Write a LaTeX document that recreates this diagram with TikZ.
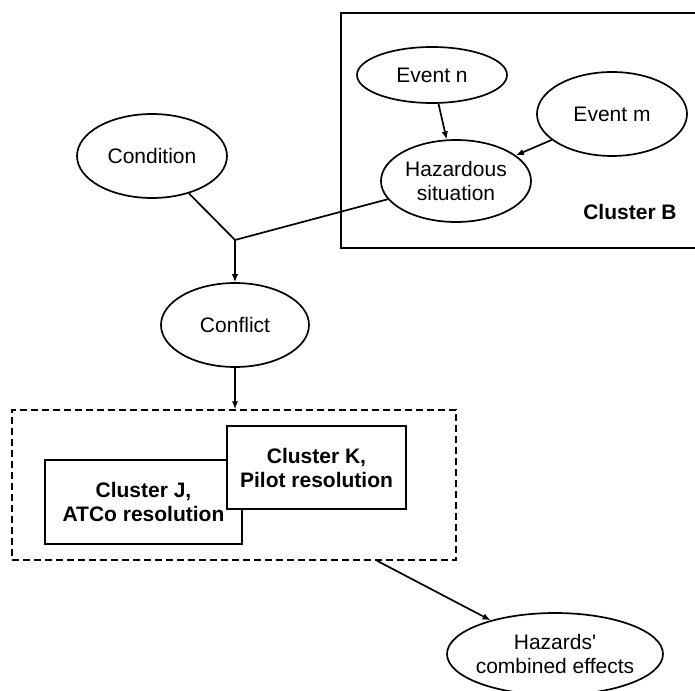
\documentclass[tikz,border=0pt]{standalone}
\usepackage{fontspec}
\setmainfont{Liberation Sans}
\usetikzlibrary{shapes.geometric,arrows.meta}
\begin{document}
\begin{tikzpicture}[x=1pt,y=-1pt,
  every node/.style={font=\fontsize{21}{24}\selectfont, align=center},
  oval/.style={draw, ellipse, line width=1.7pt, inner sep=0pt},
  clusterbox/.style={draw, rectangle, line width=1.7pt, fill=white, inner sep=0pt,
    font=\fontsize{21}{24}\selectfont\bfseries},
  grouping/.style={draw, rectangle, line width=1.5pt, dash pattern=on 7pt off 4pt, inner sep=0pt},
  link/.style={line width=1.7pt},
  arrowlink/.style={link, -{Latex[length=8pt,width=6.5pt]}},
]
\useasboundingbox (0,0) rectangle (695,690);

% Cluster B frame (runs past the right edge)
\node[draw, line width=1.7pt, inner sep=0pt, minimum width=359pt, minimum height=235pt]
  (clusterB) at (520.5,130.5) {};
\node[font=\fontsize{21}{24}\selectfont\bfseries] (labelB) at (630,212) {Cluster B};

% Events and states
\node[oval, minimum width=150pt, minimum height=56pt] (eventn) at (432,75) {Event n};
\node[oval, minimum width=150pt, minimum height=84pt] (eventm) at (612,114) {Event m};
\node[oval, minimum width=150pt, minimum height=82pt] (haz) at (456,181) {Hazardous\\situation};
\node[oval, minimum width=150pt, minimum height=84pt] (cond) at (152,156) {Condition};
\node[oval, minimum width=148pt, minimum height=84pt] (conflict) at (235,325) {Conflict};
\node[oval, inner xsep=-6pt, minimum width=216pt, minimum height=82pt] (effects) at (555,654)
  {Hazards\textquotesingle\\combined effects};

% Resolution group
\node[grouping, minimum width=444pt, minimum height=150pt] (group) at (234,485) {};
\node[clusterbox, minimum width=197pt, minimum height=84pt] (clusterJ) at (143.5,502)
  {Cluster J,\\ATCo resolution};
\node[clusterbox, minimum width=179pt, minimum height=83pt] (clusterK) at (316.5,467.5)
  {Cluster K,\\Pilot resolution};

% Connectors
\coordinate (jn) at (235,240);
\coordinate (gout) at ([xshift=143pt]group.south);
\draw[arrowlink] (eventn) -- (haz);
\draw[arrowlink] (eventm) -- (haz);
\draw[link] (cond) -- (jn);
\draw[link] (haz) -- (jn);
\draw[arrowlink] (jn) -- (conflict);
\draw[arrowlink] (conflict) -- (conflict |- group.north);
\draw[arrowlink] (gout) -- (effects);
\end{tikzpicture}
\end{document}
